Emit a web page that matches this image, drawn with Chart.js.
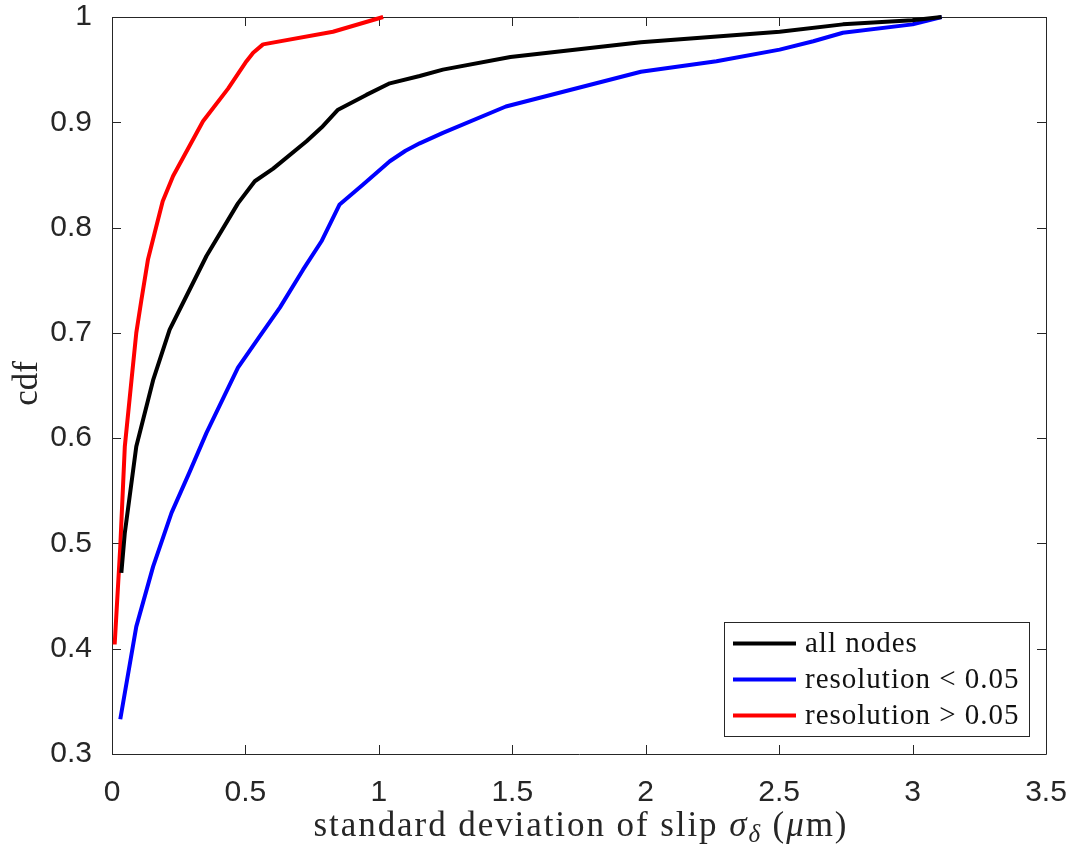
<!DOCTYPE html>
<html><head><meta charset="utf-8">
<script src="https://cdn.jsdelivr.net/npm/chart.js@4.4.1/dist/chart.umd.min.js"></script>
<style>html,body{margin:0;padding:0;background:#fff;}#wrap{width:1075px;height:847px;}</style>
</head><body><div id="wrap"><canvas id="c" width="1075" height="847"></canvas></div>
<script>
// ---- data ----
const seriesNames = ['all nodes', 'resolution < 0.05', 'resolution > 0.05'];
const seriesColors = ['#000000', '#0000ff', '#ff0000'];

const allNodesX = [0.035,0.048,0.091,0.154,0.216,0.279,0.354,0.472,0.535,0.604,0.729,0.785,0.847,0.953,1.041,1.153,1.24,1.493,1.982,2.502,2.739,2.999,3.109];
const allNodesY = [0.472,0.510,0.592,0.655,0.703,0.735,0.773,0.823,0.844,0.856,0.882,0.895,0.912,0.926,0.937,0.944,0.950,0.962,0.976,0.986,0.993,0.997,1.000];

const lowResX = [0.031,0.091,0.154,0.223,0.291,0.354,0.472,0.554,0.629,0.716,0.785,0.853,0.941,1.041,1.100,1.153,1.24,1.476,1.982,2.265,2.502,2.628,2.739,3.000,3.109];
const lowResY = [0.333,0.421,0.478,0.529,0.568,0.605,0.667,0.697,0.724,0.760,0.787,0.822,0.841,0.863,0.873,0.880,0.890,0.915,0.948,0.958,0.969,0.977,0.985,0.993,1.000];

const highResX = [0.010,0.031,0.048,0.073,0.091,0.110,0.135,0.160,0.190,0.229,0.341,0.435,0.504,0.529,0.566,0.828,1.016];
const highResY = [0.404,0.497,0.592,0.655,0.700,0.731,0.770,0.795,0.825,0.849,0.901,0.932,0.958,0.966,0.974,0.986,1.000];

const xTickValues = [0,0.5,1,1.5,2,2.5,3,3.5];
const xTickLabels = ['0','0.5','1','1.5','2','2.5','3','3.5'];
const yTickValues = [0.3,0.4,0.5,0.6,0.7,0.8,0.9,1];
const yTickLabels = ['0.3','0.4','0.5','0.6','0.7','0.8','0.9','1'];

const xTitleSegs = [
  {t:'standard deviation of slip ', it:false},
  {t:'\u03C3', it:true},
  {t:'\u03B4', it:true, sub:true},
  {t:' (', it:false},
  {t:'\u03BC', it:true},
  {t:'m)', it:false}
];
const yTitle = 'cdf';

// ---- build ----
function pts(xs, ys){ return xs.map((x,i)=>({x:x, y:ys[i]})); }
const seriesXs = [allNodesX, lowResX, highResX];
const seriesYs = [allNodesY, lowResY, highResY];

const AX = '#262626';
const SERIF = '"Liberation Serif", "Times New Roman", serif';

const matlabPlugin = {
  id: 'matlab',
  beforeDatasetsDraw(chart){
    const ctx = chart.ctx, a = chart.chartArea;
    const xs = chart.scales.x, ys = chart.scales.y;
    ctx.save();
    ctx.strokeStyle = AX; ctx.lineWidth = 1;
    ctx.beginPath();
    ctx.rect(Math.round(a.left)+0.5, Math.round(a.top)+0.5, Math.round(a.right-a.left), Math.round(a.bottom-a.top));
    ctx.stroke();
    const tl = 9;
    ctx.beginPath();
    xTickValues.forEach(v=>{
      const p = Math.round(xs.getPixelForValue(v))+0.5;
      ctx.moveTo(p, a.bottom); ctx.lineTo(p, a.bottom-tl);
      ctx.moveTo(p, a.top); ctx.lineTo(p, a.top+tl);
    });
    yTickValues.forEach(v=>{
      const p = Math.round(ys.getPixelForValue(v))+0.5;
      ctx.moveTo(a.left, p); ctx.lineTo(a.left+tl, p);
      ctx.moveTo(a.right, p); ctx.lineTo(a.right-tl, p);
    });
    ctx.stroke();
    ctx.restore();
  },
  afterDraw(chart){
    const ctx = chart.ctx, a = chart.chartArea;
    ctx.save();
    // x title (rich text with subscript)
    const size = 35;
    const fontOf = (s)=> (s.it?'italic ':'') + (s.sub? Math.round(size*0.7): size) + 'px ' + SERIF;
    ctx.letterSpacing = '0px';
    let w0 = 0, n = 0;
    xTitleSegs.forEach(s=>{ ctx.font = fontOf(s); w0 += ctx.measureText(s.t).width; n += s.t.length; });
    const target = 535;
    let sp = Math.max(0, Math.min(4, (target - w0)/n));
    ctx.letterSpacing = sp.toFixed(2)+'px';
    let total = 0;
    xTitleSegs.forEach(s=>{ ctx.font = fontOf(s); total += ctx.measureText(s.t).width; });
    let x = (a.left + a.right)/2 - total/2 + 2;
    const base = 836;
    ctx.fillStyle = AX; ctx.textAlign = 'left'; ctx.textBaseline = 'alphabetic';
    xTitleSegs.forEach(s=>{
      ctx.font = fontOf(s);
      ctx.fillText(s.t, x, base + (s.sub? 6 : 0));
      x += ctx.measureText(s.t).width;
    });
    // y title
    ctx.letterSpacing = '0px';
    ctx.translate(37, (a.top+a.bottom)/2 - 2);
    ctx.rotate(-Math.PI/2);
    ctx.font = size+'px '+SERIF;
    ctx.textAlign = 'center';
    ctx.fillText(yTitle, 0, 0);
    ctx.restore();

    // legend
    ctx.save();
    const L = 724.5, T = 622.5, W = 305, H = 114;
    ctx.fillStyle = '#ffffff';
    ctx.fillRect(L, T, W, H);
    ctx.strokeStyle = AX; ctx.lineWidth = 1;
    ctx.strokeRect(L, T, W, H);
    const rows = [643.5, 679.5, 715.5];
    ctx.font = '29px ' + SERIF;
    ctx.letterSpacing = '1px';
    ctx.textAlign = 'left'; ctx.textBaseline = 'alphabetic';
    seriesNames.forEach((nm,i)=>{
      ctx.strokeStyle = seriesColors[i]; ctx.lineWidth = 4;
      ctx.beginPath(); ctx.moveTo(733, rows[i]); ctx.lineTo(796, rows[i]); ctx.stroke();
      ctx.fillStyle = '#111111';
      ctx.fillText(nm, 805, rows[i] + 8);
    });
    ctx.restore();
  }
};

new Chart(document.getElementById('c'), {
  type: 'line',
  data: {
    datasets: seriesNames.map((nm,i)=>({
      label: nm,
      data: pts(seriesXs[i], seriesYs[i]),
      borderColor: seriesColors[i],
      backgroundColor: seriesColors[i],
      borderWidth: 4,
      pointRadius: 0,
      tension: 0,
      fill: false,
      clip: 8,
      borderJoinStyle: 'round',
      borderCapStyle: 'butt'
    }))
  },
  options: {
    responsive: false,
    devicePixelRatio: 1,
    animation: false,
    layout: { padding: { top: 17, right: 29, left: 0, bottom: 0 } },
    plugins: { legend: { display: false }, tooltip: { enabled: false } },
    scales: {
      x: {
        type: 'linear', min: 0, max: 3.5,
        grid: { display: false }, border: { display: false },
        afterBuildTicks: (s)=>{ s.ticks = xTickValues.map(v=>({value:v})); },
        afterFit: (s)=>{ s.height = 93; s.paddingLeft = 0; s.paddingRight = 0; s.paddingTop = 0; s.paddingBottom = 0; },
        ticks: {
          color: AX, padding: 16, maxRotation: 0, autoSkip: false,
          font: { family: '"Liberation Sans", Arial, sans-serif', size: 30, lineHeight: 1 },
          callback: (v)=>{ const i = xTickValues.findIndex(t=>Math.abs(t-v)<1e-9); return i>=0 ? xTickLabels[i] : ''; }
        }
      },
      y: {
        type: 'linear', min: 0.3, max: 1,
        grid: { display: false }, border: { display: false },
        afterBuildTicks: (s)=>{ s.ticks = yTickValues.map(v=>({value:v})); },
        afterFit: (s)=>{ s.width = 112; s.paddingLeft = 0; s.paddingRight = 0; s.paddingTop = 0; s.paddingBottom = 0; },
        ticks: {
          color: AX, padding: 12, autoSkip: false,
          font: { family: '"Liberation Sans", Arial, sans-serif', size: 30, lineHeight: 1 },
          callback: (v)=>{ const i = yTickValues.findIndex(t=>Math.abs(t-v)<1e-9); return i>=0 ? yTickLabels[i] : ''; }
        }
      }
    }
  },
  plugins: [matlabPlugin]
});
</script></body></html>
